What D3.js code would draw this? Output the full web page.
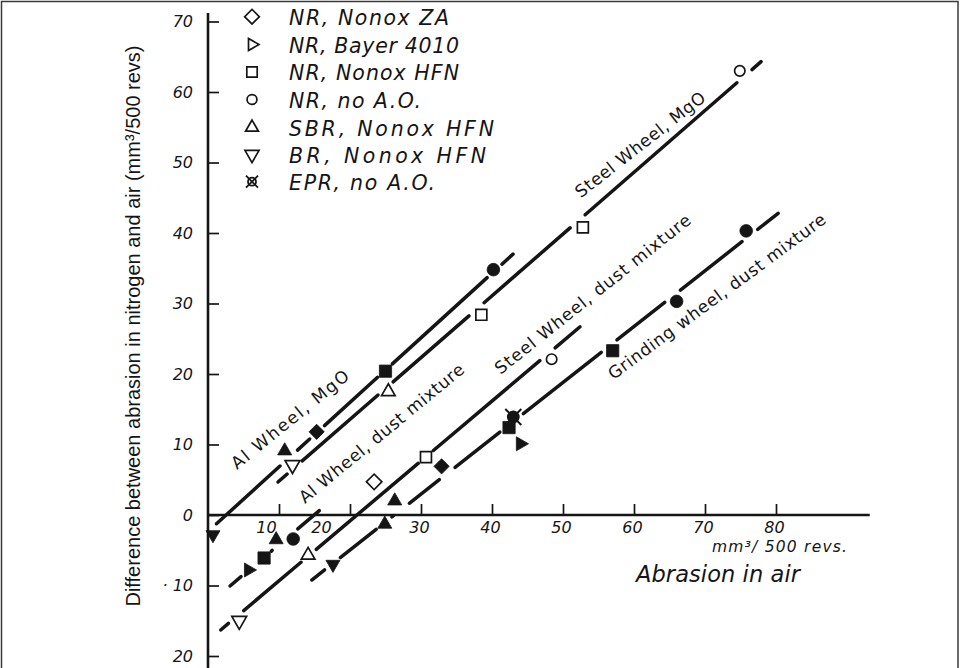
<!DOCTYPE html>
<html><head><meta charset="utf-8">
<script src="https://cdn.jsdelivr.net/npm/d3@7"></script>
<style>body{margin:0;background:#fff} svg{display:block}</style>
</head><body><svg id="c" width="961" height="668"></svg>
<script>
// ---------- DATA ----------
// points: [abrasion in air, difference N2 - air, filled(1)/open(0)]
const nrNonoxZA   = [[23.4, 4.7, 0], [15.3, 11.8, 1], [32.9, 6.9, 1]];
const nrBayer4010 = [[5.7, -7.8, 1], [44.0, 10.1, 1]];
const nrNonoxHFN  = [[30.7, 8.2, 0], [38.5, 28.4, 0], [52.8, 40.8, 0], [7.9, -6.1, 1], [25.0, 20.4, 1], [42.4, 12.4, 1], [57.0, 23.3, 1]];
const nrNoAO      = [[48.4, 22.1, 0], [74.9, 63.0, 0], [12.0, -3.4, 1], [40.2, 34.8, 1], [66.0, 30.3, 1], [75.8, 40.3, 1]];
const sbrNonoxHFN = [[14.1, -5.7, 0], [25.4, 17.5, 0], [10.8, 9.1, 1], [9.6, -3.5, 1], [24.9, -1.3, 1], [26.3, 2.0, 1]];
const brNonoxHFN  = [[11.9, 7.1, 0], [4.4, -15.0, 0], [0.7, -2.8, 1], [17.6, -7.0, 1]];
const eprNoAO     = [[43.0, 13.9, 1]];

const seriesNames = ["NR, Nonox ZA", "NR, Bayer 4010", "NR, Nonox HFN", "NR, no A.O.", "SBR, Nonox HFN", "BR, Nonox HFN", "EPR, no A.O."];
const seriesSymbols = ["diamond", "right", "square", "circle", "up", "down", "epr"];
const seriesData = [nrNonoxZA, nrBayer4010, nrNonoxHFN, nrNoAO, sbrNonoxHFN, brNonoxHFN, eprNoAO];

// fitted lines (start / end in data units)
const lineNames = ["Al Wheel, MgO", "Steel Wheel, MgO", "Al Wheel, dust mixture", "Steel Wheel, dust mixture", "Grinding wheel, dust mixture"];
const lineStart = [[0.7, -1.7], [9.86, 4.68], [3.1, -10.07], [1.79, -16.31], [14.61, -9.22]];
const lineEnd   = [[42.96, 37.0], [77.9, 64.3], [15.68, 0.61], [52.4, 26.7], [80.3, 42.8]];

// axis ticks
const xTickValues = [10, 20, 30, 40, 50, 60, 70, 80];
const xTickLabels = ["10", "20", "30", "40", "50", "60", "70", "80"];
const yTickValues = [70, 60, 50, 40, 30, 20, 10, 0, -10, -20];
const yTickLabels = ["70", "60", "50", "40", "30", "20", "10", "0", "\u00B7 10", "20"];

// ---------- LAYOUT ----------
const W = 961, H = 668;
const ink = "#151515";
const svg = d3.select("#c");
const x = d3.scaleLinear().domain([0, 80]).range([208, 776]);
const y = d3.scaleLinear().domain([-20, 70]).range([656, 21.5]);

// frame
svg.append("rect").attr("x", 1.5).attr("y", 1.5).attr("width", 956.5).attr("height", 700)
  .attr("fill", "none").attr("stroke", "#3a3a3a").attr("stroke-width", 1.5);

// axes lines
svg.append("line").attr("x1", x(0)).attr("x2", x(0)).attr("y1", 13).attr("y2", H)
  .attr("stroke", ink).attr("stroke-width", 2.6);
svg.append("line").attr("x1", x(0)).attr("x2", x(93.2)).attr("y1", y(0)).attr("y2", y(0))
  .attr("stroke", ink).attr("stroke-width", 2.4);

const tickFont = "'DejaVu Sans', sans-serif";
const gy = svg.append("g").attr("transform", `translate(${x(0)},0)`)
  .call(d3.axisLeft(y).tickValues(yTickValues).tickSizeInner(-11).tickSizeOuter(0).tickPadding(15)
    .tickFormat((d, i) => yTickLabels[i]));
gy.select(".domain").remove();
gy.selectAll(".tick line").attr("stroke", ink).attr("stroke-width", 1.7);
gy.selectAll(".tick text").attr("fill", ink).style("font-family", tickFont).style("font-style", "italic")
  .style("font-size", "16px").attr("xml:space", "preserve");

const xLabelShift = {10: -13, 20: -29};
const gx = svg.append("g").attr("transform", `translate(0,${y(0)})`)
  .call(d3.axisBottom(x).tickValues(xTickValues).tickSizeInner(-11).tickSizeOuter(0).tickPadding(7)
    .tickFormat((d, i) => xTickLabels[i]));
gx.select(".domain").remove();
gx.selectAll(".tick line").attr("stroke", ink).attr("stroke-width", 1.7);
gx.selectAll(".tick text").attr("fill", ink).style("font-family", tickFont).style("font-style", "italic")
  .style("font-size", "16px").attr("dx", d => (xLabelShift[d] || -2));

// axis titles
svg.append("text").attr("transform", "translate(140,326) rotate(-90)").attr("text-anchor", "middle")
  .style("font-family", "'Liberation Sans', Arial, sans-serif").style("font-size", "20px").attr("fill", ink)
  .text("Difference between abrasion in nitrogen and air (mm\u00B3/500 revs)");
svg.append("text").attr("x", 712).attr("y", 552).attr("textLength", 135).attr("lengthAdjust", "spacing")
  .style("font-family", tickFont).style("font-style", "italic").style("font-size", "15.5px").attr("fill", ink)
  .text("mm\u00B3/ 500 revs.");
svg.append("text").attr("x", 636).attr("y", 582).attr("textLength", 164).attr("lengthAdjust", "spacing")
  .style("font-family", tickFont).style("font-style", "italic").style("font-size", "22.5px").attr("fill", ink)
  .text("Abrasion in air");

// ---------- SYMBOLS ----------
const symSize = {diamond: 115, right: 85, square: 150, circle: 125, up: 85, down: 85};
const openSize = {diamond: 120, right: 70, square: 120, circle: 85, up: 80, down: 95};
function drawSymbol(g, type, filled, scale) {
  const k = scale || 1;
  if (type === "epr") {
    const e = g.append("g");
    e.append("circle").attr("r", filled ? 5.5 : 4).attr("fill", filled ? ink : "#fff")
      .attr("stroke", ink).attr("stroke-width", 1.8);
    const s = filled ? 8 : 6;
    e.append("path").attr("d", `M${-s},${-s}L${s},${s}M${-s},${s}L${s},${-s}`)
      .attr("stroke", ink).attr("stroke-width", filled ? 2 : 1.8);
    return;
  }
  const base = {diamond: d3.symbolSquare, right: d3.symbolTriangle, square: d3.symbolSquare,
                circle: d3.symbolCircle, up: d3.symbolTriangle, down: d3.symbolTriangle}[type];
  const rot = {diamond: 45, right: 90, down: 180}[type] || 0;
  const size = (filled ? symSize[type] : openSize[type]) * k;
  g.append("path").attr("d", d3.symbol(base, size)()).attr("transform", `rotate(${rot})`)
    .attr("fill", filled ? ink : "#fff").attr("stroke", ink).attr("stroke-width", filled ? 0.8 : 1.7)
    .attr("stroke-linejoin", "miter");
}

// ---------- LINES with gaps at markers ----------
const allPts = [];
seriesData.forEach(s => s.forEach(p => allPts.push([x(p[0]), y(p[1])])));
const lineG = svg.append("g");
lineNames.forEach((name, i) => {
  const x0 = x(lineStart[i][0]), y0 = y(lineStart[i][1]);
  const x1 = x(lineEnd[i][0]), y1 = y(lineEnd[i][1]);
  const L = Math.hypot(x1 - x0, y1 - y0), ux = (x1 - x0) / L, uy = (y1 - y0) / L;
  let cuts = [];
  allPts.forEach(p => {
    const dx = p[0] - x0, dy = p[1] - y0;
    const t = dx * ux + dy * uy, d = Math.abs(dx * uy - dy * ux);
    if (d < 11.5 && t > -12 && t < L + 12) cuts.push([t - 10, t + 10]);
  });
  cuts.sort((a, b) => a[0] - b[0]);
  const merged = [];
  cuts.forEach(c => {
    if (merged.length && c[0] <= merged[merged.length - 1][1]) merged[merged.length - 1][1] = Math.max(merged[merged.length - 1][1], c[1]);
    else merged.push(c.slice());
  });
  let pos = 0; const segs = [];
  merged.forEach(c => { if (c[0] > pos + 1) segs.push([pos, Math.min(c[0], L)]); pos = Math.max(pos, c[1]); });
  if (pos < L - 1) segs.push([pos, L]);
  segs.forEach(s => {
    lineG.append("line").attr("x1", x0 + ux * s[0]).attr("y1", y0 + uy * s[0])
      .attr("x2", x0 + ux * s[1]).attr("y2", y0 + uy * s[1])
      .attr("stroke", ink).attr("stroke-width", 3.5).attr("stroke-linecap", "round");
  });
});

// line labels: anchor in data units, angle, length
const lineLabelAt = [[4.08, 6.38], [52.5, 44.9], [13.66, 1.56], [41.2, 19.86], [57.1, 19.1]];
const lineLabelAngle = [39, 38, 39.5, 38.5, 36.5];
const lineLabelLen = [146, 160, 208, 245, 266];
lineNames.forEach((name, i) => {
  svg.append("text")
    .attr("transform", `translate(${x(lineLabelAt[i][0])},${y(lineLabelAt[i][1])}) rotate(${-lineLabelAngle[i]})`)
    .attr("textLength", lineLabelLen[i]).attr("lengthAdjust", "spacing")
    .style("font-family", tickFont).style("font-size", "17px").attr("fill", ink)
    .text(name);
});

// markers
const markG = svg.append("g");
seriesData.forEach((s, si) => {
  s.forEach(p => {
    const g = markG.append("g").attr("transform", `translate(${x(p[0])},${y(p[1])})`);
    drawSymbol(g, seriesSymbols[si], p[2] === 1);
  });
});

// ---------- LEGEND ----------
const legendRowY = [16.7, 44.5, 72, 99.5, 127.5, 154.5, 181.7];
const legendLen = [160, 170, 170, 132, 205, 197, 146];
seriesNames.forEach((name, i) => {
  const g = svg.append("g").attr("transform", `translate(252,${legendRowY[i]})`);
  drawSymbol(g, seriesSymbols[i], false, 0.9);
  svg.append("text").attr("x", 289).attr("y", legendRowY[i] + 8)
    .attr("textLength", legendLen[i]).attr("lengthAdjust", "spacing")
    .style("font-family", tickFont).style("font-style", "italic").style("font-size", "20.5px")
    .attr("fill", ink).text(name);
});
</script></body></html>
